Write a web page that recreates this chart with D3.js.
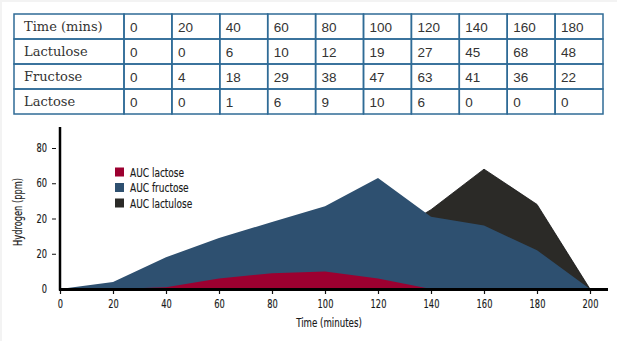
<!DOCTYPE html>
<html>
<head>
<meta charset="utf-8">
<script src="https://cdn.jsdelivr.net/npm/d3@7"></script>
<style>
  body { margin: 0; background: #ffffff; }
  .cell { font-size: 13.5px; fill: #333; }
  .rowname { font-family: "DejaVu Serif", serif; font-size: 13px; }
  .num { font-family: "Liberation Sans", Arial, sans-serif; }
  .axis text, .legend text, .title {
    font-family: "DejaVu Sans Condensed", "DejaVu Sans", sans-serif;
    fill: #1a1a1a;
    stroke: #1a1a1a;
    stroke-width: 0.15px;
  }
</style>
</head>
<body>
<div id="chart"></div>
<script>
// sampling times and hydrogen readings (ppm)
var times     = [0, 20, 40, 60, 80, 100, 120, 140, 160, 180];
var lactulose = [0, 0, 6, 10, 12, 19, 27, 45, 68, 48];
var fructose  = [0, 4, 18, 29, 38, 47, 63, 41, 36, 22];
var lactose   = [0, 0, 1, 6, 9, 10, 6, 0, 0, 0];

// every curve comes back to zero at the end of the test
var endTime = 200, endValue = 0;

var rowNames   = ["Time (mins)", "Lactulose", "Fructose", "Lactose"];
var xTicks     = [0, 20, 40, 60, 80, 100, 120, 140, 160, 180, 200];
var yTicks     = [0, 20, 40, 60, 80];
var yTickText  = ["0", "20", "20", "60", "80"];
var legendText = ["AUC lactose", "AUC fructose", "AUC lactulose"];

var W = 617, H = 341;
var svg = d3.select("#chart").append("svg")
    .attr("width", W)
    .attr("height", H);

svg.append("rect").attr("width", W).attr("height", H).attr("fill", "#f3f3f3");
svg.append("rect").attr("x", 2).attr("y", 2).attr("width", W - 2).attr("height", H - 2).attr("fill", "#fff");

// ---- table ----
var tbl = {left: 14, top: 14, nameW: 110, colW: 47.9, rowH: 25};
var rows = [times, lactulose, fructose, lactose];
var border = "#2f6b96";

var table = svg.append("g");
rows.forEach(function(vals, r) {
  var y = tbl.top + r * tbl.rowH;
  table.append("rect")
    .attr("x", tbl.left).attr("y", y)
    .attr("width", tbl.nameW).attr("height", tbl.rowH)
    .attr("fill", "none").attr("stroke", border).attr("stroke-width", 1.5);
  table.append("text")
    .attr("class", "cell rowname")
    .attr("x", tbl.left + 10).attr("y", y + 17)
    .text(rowNames[r]);
  vals.forEach(function(v, c) {
    var x = tbl.left + tbl.nameW + c * tbl.colW;
    table.append("rect")
      .attr("x", x).attr("y", y)
      .attr("width", tbl.colW).attr("height", tbl.rowH)
      .attr("fill", "none").attr("stroke", border).attr("stroke-width", 1.5);
    table.append("text")
      .attr("class", "cell num")
      .attr("x", x + 6).attr("y", y + 17.5)
      .text(v);
  });
});

// ---- area chart ----
var x = d3.scaleLinear().domain([0, 200]).range([60, 590]);
var y = d3.scaleLinear().domain([0, 80]).range([289, 148]);

function points(vals) {
  var pts = times.map(function(t, i) { return {t: t, v: vals[i]}; });
  pts.push({t: endTime, v: endValue});
  return pts;
}

var area = d3.area()
  .x(function(d) { return x(d.t); })
  .y0(y(0))
  .y1(function(d) { return y(d.v); });

var series = [
  {vals: lactulose, fill: "#2b2a27", stroke: "#111"},
  {vals: fructose,  fill: "#2e5070", stroke: "none"},
  {vals: lactose,   fill: "#9c0030", stroke: "none"}
];

svg.selectAll(".area")
  .data(series)
  .enter().append("path")
    .attr("class", "area")
    .attr("d", function(s) { return area(points(s.vals)); })
    .attr("fill", function(s) { return s.fill; })
    .attr("stroke", function(s) { return s.stroke; })
    .attr("stroke-width", 0.8);

// axes
var xAxis = svg.append("g")
  .attr("class", "axis")
  .attr("transform", "translate(0," + y(0) + ")")
  .call(d3.axisBottom(x).tickValues(xTicks).tickSize(5).tickPadding(6).tickSizeOuter(0));
xAxis.select(".domain").remove();
xAxis.selectAll("text").style("font-size", "11.5px");
xAxis.selectAll("line").attr("stroke", "#111").attr("stroke-width", 1.2);

var yAxis = svg.append("g")
  .attr("class", "axis")
  .attr("transform", "translate(56,0)")
  .call(d3.axisLeft(y).tickValues(yTicks)
        .tickFormat(function(d, i) { return yTickText[i]; })
        .tickSize(4).tickPadding(5));
yAxis.select(".domain").remove();
yAxis.selectAll("text").style("font-size", "11.5px");
yAxis.selectAll("line").attr("stroke", "#111");
yAxis.selectAll(".tick").filter(function(d) { return d === 0; }).select("line").remove();

// heavy axis lines
svg.append("line")
  .attr("x1", 60).attr("x2", 60).attr("y1", 127).attr("y2", 290.5)
  .attr("stroke", "#000").attr("stroke-width", 2.5);
svg.append("line")
  .attr("x1", 59).attr("x2", 608).attr("y1", 289.5).attr("y2", 289.5)
  .attr("stroke", "#000").attr("stroke-width", 3);

svg.append("text")
  .attr("class", "title")
  .attr("x", 329).attr("y", 327)
  .attr("text-anchor", "middle")
  .style("font-size", "12px")
  .text("Time (minutes)");

svg.append("text")
  .attr("class", "title")
  .attr("transform", "translate(22,212) rotate(-90)")
  .attr("text-anchor", "middle")
  .style("font-size", "11.5px")
  .text("Hydrogen (ppm)");

// legend
var legend = svg.append("g").attr("class", "legend");
var legendFill = ["#9c0030", "#2e5070", "#2b2a27"];
legendText.forEach(function(t, i) {
  var ly = 172 + i * 15.5;
  legend.append("rect")
    .attr("x", 115).attr("y", ly - 4.5)
    .attr("width", 9).attr("height", 9)
    .attr("fill", legendFill[i]);
  legend.append("text")
    .attr("x", 130).attr("y", ly + 4.5)
    .style("font-size", "12.5px")
    .text(t);
});

// the chart lettering is a tight condensed face: squeeze the glyphs horizontally
svg.selectAll(".axis text, .legend text, .title").each(function() {
  var w = this.getComputedTextLength();
  d3.select(this)
    .attr("textLength", w * 0.8)
    .attr("lengthAdjust", "spacingAndGlyphs");
});
</script>
</body>
</html>
